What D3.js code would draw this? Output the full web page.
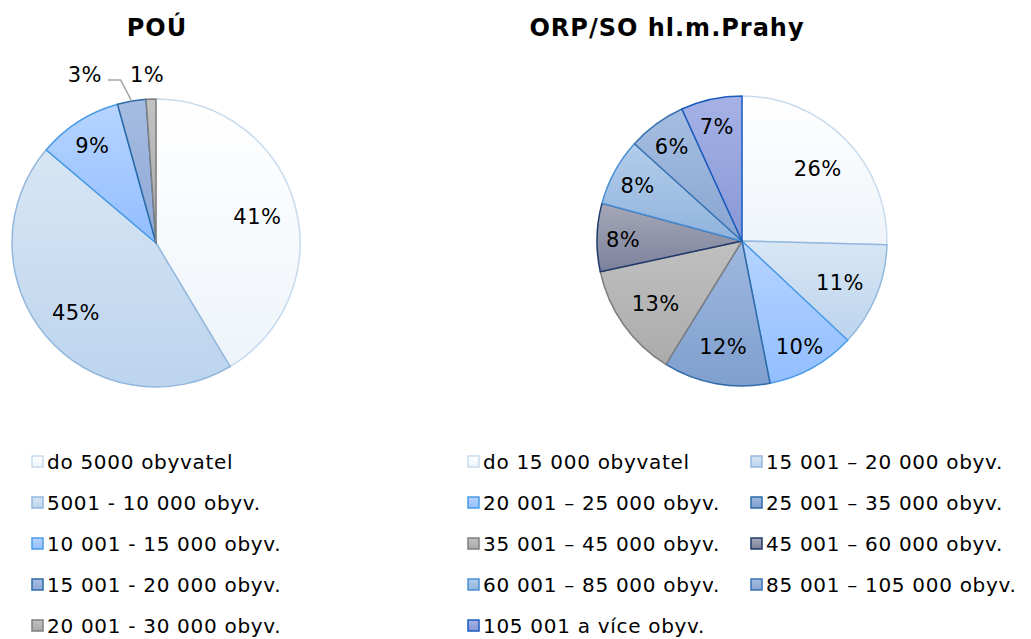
<!DOCTYPE html>
<html>
<head>
<meta charset="utf-8">
<script src="https://cdn.jsdelivr.net/npm/d3@7"></script>
<style>
  body { margin: 0; background: #fff; }
  text { font-family: Verdana, "DejaVu Sans", sans-serif; fill: #000; }
</style>
</head>
<body>
<svg id="chart" width="1031" height="639"></svg>
<script>
// POÚ
var pouCategories = ["do 5000 obyvatel", "5001 - 10 000 obyv.", "10 001 - 15 000 obyv.",
                     "15 001 - 20 000 obyv.", "20 001 - 30 000 obyv."];
var pouValues = [41.4, 44.8, 9.5, 3.2, 1.1];
var pouLabels = ["41%", "45%", "9%", "3%", "1%"];

// ORP/SO hl.m.Prahy
var orpCategories = ["do 15 000 obyvatel", "15 001 – 20 000 obyv.", "20 001 – 25 000 obyv.",
                     "25 001 – 35 000 obyv.", "35 001 – 45 000 obyv.", "45 001 – 60 000 obyv.",
                     "60 001 – 85 000 obyv.", "85 001 – 105 000 obyv.", "105 001 a více obyv."];
var orpValues = [25.4, 11.6, 9.9, 11.9, 12.8, 7.6, 7.5, 6.5, 6.8];
var orpLabels = ["26%", "11%", "10%", "12%", "13%", "8%", "8%", "6%", "7%"];

// fills: [top, bottom, stroke]
var pouColors = [
  ["#ffffff", "#eef4fa", "#c8dbee"],
  ["#d8e6f4", "#bcd4ee", "#93b8de"],
  ["#b6d4ff", "#92beff", "#4a9be8"],
  ["#a6bde2", "#8ea8d6", "#2e6ba8"],
  ["#c2c2c2", "#a8a8a8", "#7f7f7f"]
];
var orpColors = [
  ["#ffffff", "#eef4fa", "#c8dbee"],
  ["#d8e6f4", "#bcd4ee", "#93b8de"],
  ["#b6d4ff", "#92beff", "#4a9be8"],
  ["#a0b8e0", "#7f9fce", "#2e6ba8"],
  ["#c0c0c0", "#ababab", "#7f7f7f"],
  ["#a6a8b8", "#7c829c", "#1f3a6a"],
  ["#b3cdea", "#90b3dd", "#4a8fd6"],
  ["#a6bee0", "#88a6d3", "#3a72b2"],
  ["#a6b2e6", "#8898d6", "#1a5bbf"]
];

var svg = d3.select("#chart");
var defs = svg.append("defs");

function drawPie(id, values, labels, colors, cx, cy, r) {
  var pie = d3.pie().sort(null).value(function(d) { return d; });
  var arcs = pie(values);
  var arc = d3.arc().innerRadius(0).outerRadius(r);
  var outerArc = d3.arc().innerRadius(r).outerRadius(r);

  colors.forEach(function(c, i) {
    var g = defs.append("linearGradient")
      .attr("id", id + "g" + i)
      .attr("x1", 0).attr("y1", 0).attr("x2", 0).attr("y2", 1);
    g.append("stop").attr("offset", "0%").attr("stop-color", c[0]);
    g.append("stop").attr("offset", "100%").attr("stop-color", c[1]);
  });

  var g = svg.append("g").attr("transform", "translate(" + cx + "," + cy + ")");

  g.selectAll("path")
    .data(arcs)
    .enter().append("path")
      .attr("d", arc)
      .attr("fill", function(d, i) { return "url(#" + id + "g" + i + ")"; })
      .attr("stroke", function(d, i) { return colors[i][2]; })
      .attr("stroke-width", 1.5)
      .attr("stroke-linejoin", "round");

  g.selectAll("text.lbl")
    .data(arcs)
    .enter().append("text")
      .attr("class", "lbl")
      .attr("text-anchor", "middle")
      .attr("dominant-baseline", "central")
      .attr("dy", 2)
      .style("font-size", "21px")
      .style("letter-spacing", "0.4px")
      .attr("transform", function(d, i) {
        var p;
        if (d.data < 2) {
          p = outerArc.centroid(d);
          p = [p[0] - 4, p[1] - 26];
        } else if (d.data < 5) {
          p = outerArc.centroid(d);
          p = [p[0] - 47, p[1] - 28];
        } else {
          var lr = d.data < 10 ? r * 0.82 : r * 0.73;
          p = d3.arc().innerRadius(lr).outerRadius(lr).centroid(d);
        }
        return "translate(" + p + ")";
      })
      .text(function(d, i) { return labels[i]; });

  // leader for the small label
  arcs.forEach(function(d) {
    if (d.data >= 2 && d.data < 5) {
      var p = outerArc.centroid(d);
      g.append("polyline")
        .attr("points", [[p[0] - 24, p[1] - 21], [p[0] - 11, p[1] - 21], p].join(" "))
        .attr("fill", "none")
        .attr("stroke", "#a6a6a6")
        .attr("stroke-width", 1.5);
    }
  });
}

function drawLegend(id, cats, colors, x0, colW, perCol, y0, rowH) {
  var items = svg.append("g").selectAll("g")
    .data(cats)
    .enter().append("g")
      .attr("transform", function(d, i) {
        var col = perCol ? i % 2 : 0;
        var row = perCol ? Math.floor(i / 2) : i;
        return "translate(" + (x0 + col * colW) + "," + (y0 + row * rowH) + ")";
      });
  items.append("rect")
    .attr("x", 0).attr("y", -6)
    .attr("width", 11).attr("height", 11)
    .attr("fill", function(d, i) { return "url(#" + id + "g" + i + ")"; })
    .attr("stroke", function(d, i) { return colors[i][2]; })
    .attr("stroke-width", 1.5);
  items.append("text")
    .attr("x", 15)
    .attr("dominant-baseline", "central")
    .style("font-size", "20px")
    .style("letter-spacing", "0.7px")
    .text(function(d) { return d; });
}

svg.append("text")
  .attr("x", 157).attr("y", 36)
  .attr("text-anchor", "middle")
  .style("font-size", "24px").style("font-weight", "bold")
  .style("letter-spacing", "1px")
  .text("POÚ");
svg.append("text")
  .attr("x", 667).attr("y", 36)
  .attr("text-anchor", "middle")
  .style("font-size", "24px").style("font-weight", "bold")
  .style("letter-spacing", "1px")
  .text("ORP/SO hl.m.Prahy");

drawPie("pou", pouValues, pouLabels, pouColors, 156, 243, 144);
drawPie("orp", orpValues, orpLabels, orpColors, 742, 241, 145);

drawLegend("pou", pouCategories, pouColors, 32, 0, false, 462, 41);
drawLegend("orp", orpCategories, orpColors, 468, 283, true, 462, 41);
</script>
</body>
</html>
